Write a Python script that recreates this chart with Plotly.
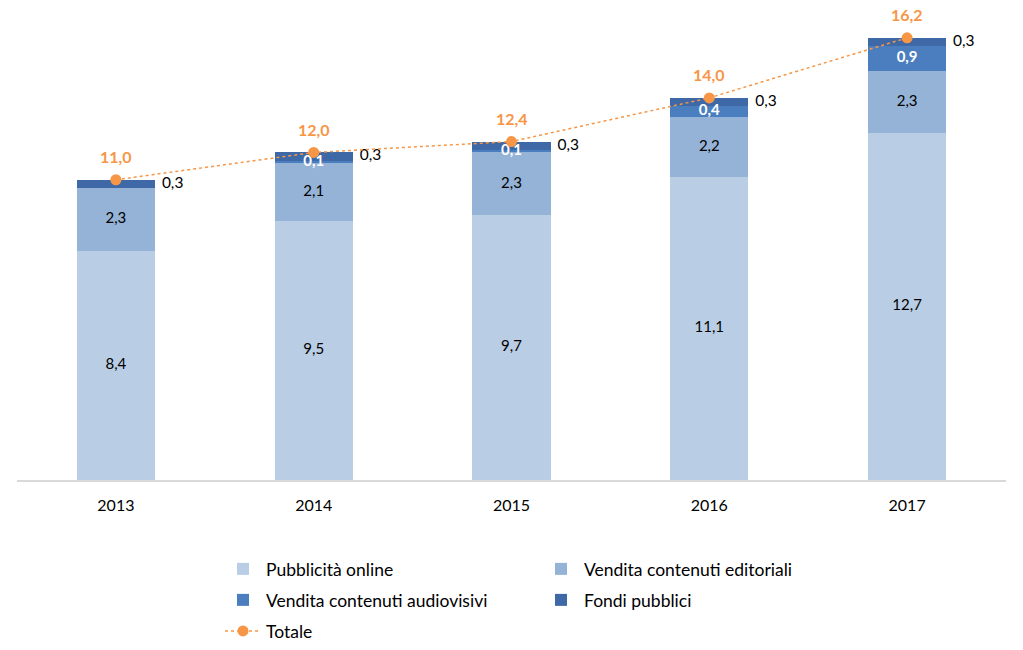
import plotly.graph_objects as go

years = ["2013", "2014", "2015", "2016", "2017"]
pubblicita = [8.4, 9.5, 9.7, 11.1, 12.7]
editoriali = [2.3, 2.1, 2.3, 2.2, 2.3]
audiovisivi = [0.0, 0.1, 0.1, 0.4, 0.9]
fondi = [0.3, 0.3, 0.3, 0.3, 0.3]
totale = [11.0, 12.0, 12.4, 14.0, 16.2]

names = ["Pubblicità online", "Vendita contenuti editoriali",
         "Vendita contenuti audiovisivi", "Fondi pubblici", "Totale"]
colors = ["#B9CDE5", "#95B3D7", "#4A7EBF", "#3E69A6"]
orange = "#F79646"
FONT = "Lato"

def fmt(v):
    return f"{v:.1f}".replace(".", ",")

x = list(range(len(years)))
W = 0.395

fig = go.Figure()
series = [pubblicita, editoriali, audiovisivi, fondi]
legends = ["legend", "legend", "legend2", "legend2"]
for s, n, c, lg in zip(series, names[:4], colors, legends):
    fig.add_trace(go.Bar(x=x, y=s, name=n, marker=dict(color=c, line=dict(width=0)),
                         width=W, legend=lg))

base0 = [0] * 5
def mids(base, vals):
    return [b + v / 2 for b, v in zip(base, vals)]

cum1 = pubblicita
cum2 = [a + b for a, b in zip(cum1, editoriali)]
cum3 = [a + b for a, b in zip(cum2, audiovisivi)]

fig.add_trace(go.Scatter(x=x, y=mids(base0, pubblicita), mode="text",
                         text=[fmt(v) for v in pubblicita], showlegend=False,
                         textfont=dict(family=FONT, size=15, color="#000000"), hoverinfo="skip"))
fig.add_trace(go.Scatter(x=x, y=mids(cum1, editoriali), mode="text",
                         text=[fmt(v) for v in editoriali], showlegend=False,
                         textfont=dict(family=FONT, size=15, color="#000000"), hoverinfo="skip"))
ax = [xi for xi, v in zip(x, audiovisivi) if v > 0]
ay = [m for m, v in zip(mids(cum2, audiovisivi), audiovisivi) if v > 0]
at = [fmt(v) for v in audiovisivi if v > 0]
fig.add_trace(go.Scatter(x=ax, y=ay, mode="text", text=at, showlegend=False,
                         textfont=dict(family=FONT, size=15, color="#FFFFFF", weight="bold"),
                         hoverinfo="skip"))
fig.add_trace(go.Scatter(x=[xi + W / 2 + 0.035 for xi in x], y=mids(cum3, fondi), mode="text",
                         text=[fmt(v) for v in fondi], textposition="middle right",
                         showlegend=False,
                         textfont=dict(family=FONT, size=15.5, color="#000000"), hoverinfo="skip"))

fig.add_trace(go.Scatter(x=x, y=totale, name="Totale", mode="lines+markers",
                         line=dict(color=orange, width=1.5, dash="dot"),
                         marker=dict(color=orange, size=11),
                         legend="legend3"))
for xi, v in zip(x, totale):
    fig.add_annotation(x=xi, y=v, xref="x", yref="y", text=fmt(v), showarrow=False,
                       yshift=23,
                       font=dict(family=FONT, size=16, color=orange, weight="bold"))

legcommon = dict(orientation="h", xref="container", yref="container",
                 xanchor="left", yanchor="middle", entrywidth=267, entrywidthmode="pixels",
                 font=dict(family=FONT, size=17.5, color="#000000"),
                 bgcolor="rgba(0,0,0,0)", itemwidth=36, tracegroupgap=0,
                 traceorder="normal")
lx = 220 / 1023
fig.update_layout(
    width=1023, height=650,
    margin=dict(l=17, r=17, t=16, b=170),
    barmode="stack",
    paper_bgcolor="white", plot_bgcolor="white",
    font=dict(family=FONT, size=15, color="#000000"),
    xaxis=dict(range=[-0.5, 4.5], tickvals=x, ticktext=years, showgrid=False,
               zeroline=False, showline=True, linecolor="#D9D9D9", linewidth=1.5,
               ticks="", ticklabelstandoff=10,
               tickfont=dict(family=FONT, size=16, color="#000000")),
    yaxis=dict(range=[0, 17], visible=False, showgrid=False, zeroline=False),
    legend=dict(x=lx, y=1 - 569 / 650, **legcommon),
    legend2=dict(x=lx, y=1 - 600 / 650, **legcommon),
    legend3=dict(x=lx, y=1 - 631 / 650, **legcommon),
    showlegend=True,
)

fig.write_html("out.html")
